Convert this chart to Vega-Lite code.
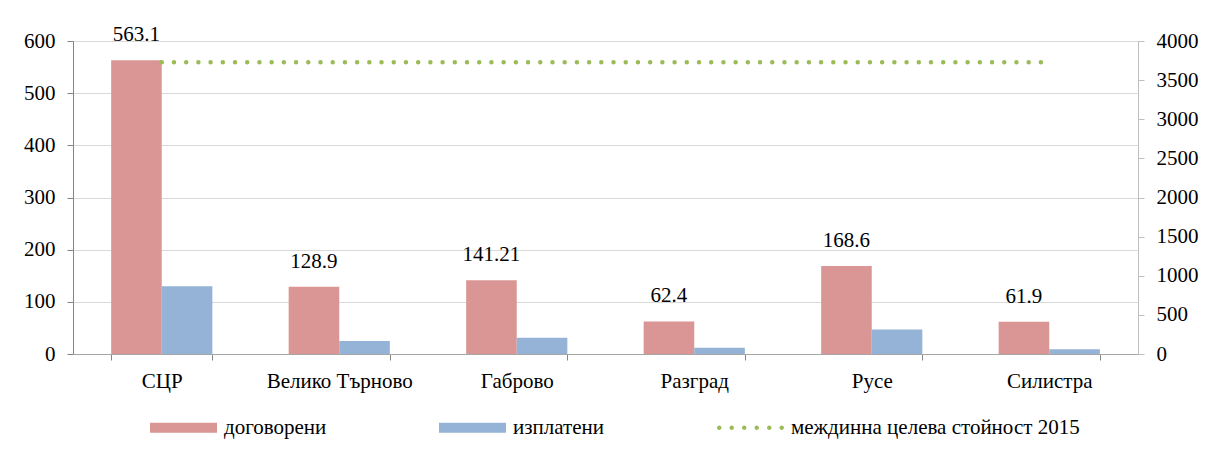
{
  "$schema": "https://vega.github.io/schema/vega-lite/v6.json",
  "width": 1065,
  "height": 313,
  "autosize": {"type": "none"},
  "padding": {"left": 73, "top": 41, "right": 75, "bottom": 105},
  "background": "white",
  "config": {
    "font": "Liberation Serif, Times New Roman, serif",
    "view": {"stroke": null},
    "axis": {"labelFont": "Liberation Serif, Times New Roman, serif", "labelFontSize": 21, "labelColor": "black", "title": null},
    "legend": {"labelFont": "Liberation Serif, Times New Roman, serif"},
    "text": {"font": "Liberation Serif, Times New Roman, serif"}
  },
  "data": {
    "values": [
      {"region": "СЦР", "договорени": 563.1, "изплатени": 130, "target": 3728},
      {"region": "Велико Търново", "договорени": 128.9, "изплатени": 25, "target": 3728},
      {"region": "Габрово", "договорени": 141.21, "изплатени": 31, "target": 3728},
      {"region": "Разград", "договорени": 62.4, "изплатени": 12, "target": 3728},
      {"region": "Русе", "договорени": 168.6, "изплатени": 47, "target": 3728},
      {"region": "Силистра", "договорени": 61.9, "изплатени": 9, "target": 3728}
    ]
  },
  "layer": [
    {
      "transform": [{"fold": ["договорени", "изплатени"], "as": ["series", "value"]}],
      "encoding": {
        "x": {
          "field": "region", "type": "nominal", "sort": null,
          "scale": {"paddingInner": 0.43, "paddingOuter": 0.215},
          "axis": {"tickBand": "extent", "labelAngle": 0, "labelFont": "Liberation Serif, Times New Roman, serif", "labelFontSize": 21, "domainColor": "#a6a6a6", "tickColor": "#868686", "tickSize": 6, "labelPadding": 10}
        },
        "xOffset": {"field": "series", "type": "nominal", "sort": ["договорени", "изплатени"]},
        "y": {
          "field": "value", "type": "quantitative",
          "scale": {"domain": [0, 600]},
          "axis": {"values": [0, 100, 200, 300, 400, 500, 600], "format": "d", "labelFont": "Liberation Serif, Times New Roman, serif", "labelFontSize": 21, "grid": true, "gridColor": "#d9d9d9", "domainColor": "#868686", "tickColor": "#868686", "tickSize": 6, "labelPadding": 12}
        }
      },
      "layer": [
        {
          "mark": {"type": "bar"},
          "encoding": {
            "color": {
              "field": "series", "type": "nominal",
              "scale": {"domain": ["договорени", "изплатени", "междинна целева стойност 2015"], "range": ["#D99694", "#95B3D7", "#9BBB59"]},
              "legend": {
                "orient": "none", "legendX": 77, "legendY": 353, "direction": "horizontal", "title": null,
                "symbolSize": 4489, "symbolType": "M-1,-0.149h2v0.298h-2z",
                "labelFontSize": 21, "labelFont": "Liberation Serif, Times New Roman, serif", "labelColor": "black", "labelLimit": 500,
                "labelOffset": 7, "columnPadding": 112, "padding": 0, "symbolStrokeWidth": 0,
                "encode": {
                  "symbols": {
                    "update": {
                      "shape": {"signal": "datum.value === 'междинна целева стойност 2015' ? 'M-1,0a0.067,0.067 0 1,0 0.134,0a0.067,0.067 0 1,0 -0.134,0M-0.627,0a0.067,0.067 0 1,0 0.134,0a0.067,0.067 0 1,0 -0.134,0M-0.254,0a0.067,0.067 0 1,0 0.134,0a0.067,0.067 0 1,0 -0.134,0M0.12,0a0.067,0.067 0 1,0 0.134,0a0.067,0.067 0 1,0 -0.134,0M0.493,0a0.067,0.067 0 1,0 0.134,0a0.067,0.067 0 1,0 -0.134,0M0.866,0a0.067,0.067 0 1,0 0.134,0a0.067,0.067 0 1,0 -0.134,0' : 'M-1,-0.149h2v0.298h-2z'"},
                      "fill": {"scale": "color", "field": "value"},
                      "stroke": {"value": "transparent"},
                      "opacity": {"value": 1}
                    }
                  }
                }
              }
            }
          }
        },
        {
          "transform": [{"filter": "datum.series === 'договорени'"}],
          "mark": {"type": "text", "dy": -25, "fontSize": 21, "font": "Liberation Serif, Times New Roman, serif", "color": "black", "baseline": "middle"},
          "encoding": {"text": {"field": "value", "type": "nominal"}}
        }
      ]
    },
    {
      "mark": {"type": "line", "strokeWidth": 4.5, "strokeCap": "round", "strokeDash": [0.01, 12.2]},
      "encoding": {
        "x": {"field": "region", "type": "nominal", "sort": null},
        "y": {
          "field": "target", "type": "quantitative",
          "scale": {"domain": [0, 4000]},
          "axis": {"orient": "right", "values": [0, 500, 1000, 1500, 2000, 2500, 3000, 3500, 4000], "format": "d", "labelFont": "Liberation Serif, Times New Roman, serif", "labelFontSize": 21, "grid": false, "domainColor": "#bfbfbf", "tickColor": "#bfbfbf", "tickSize": 6, "labelPadding": 12}
        },
        "color": {"datum": "междинна целева стойност 2015"}
      }
    }
  ],
  "resolve": {"scale": {"y": "independent"}}
}
